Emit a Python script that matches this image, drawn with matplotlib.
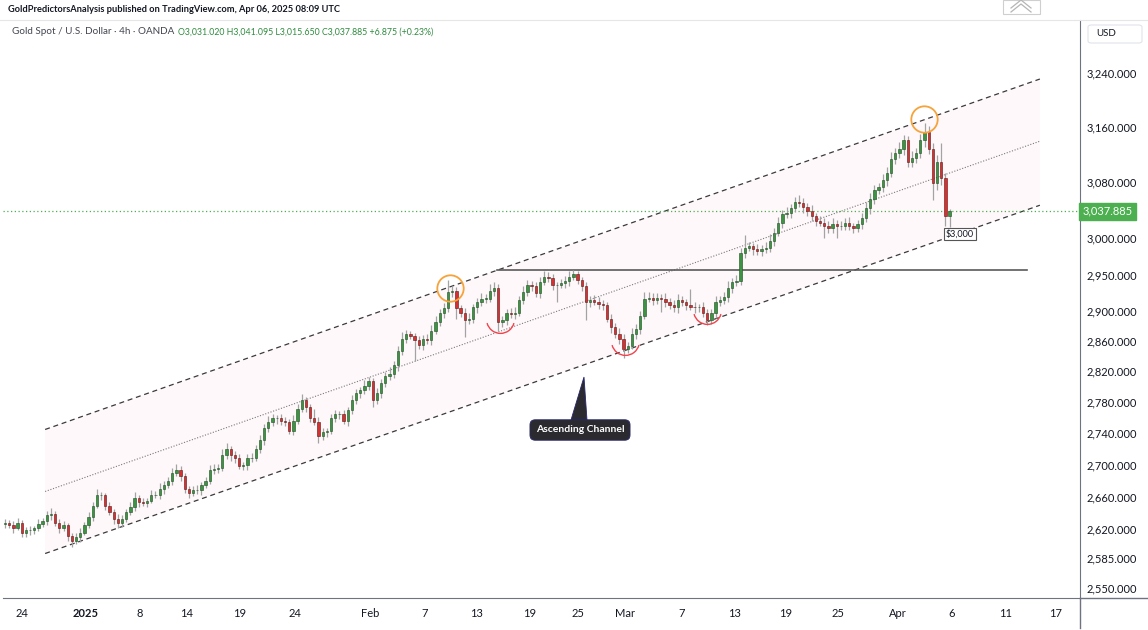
# Oro spot / USD, velas ~8h, canal ascendente (recreación de captura de TradingView)
import numpy as np
import matplotlib.pyplot as plt
from matplotlib.path import Path
from matplotlib.lines import Line2D
from matplotlib.patches import Polygon, FancyBboxPatch

plt.rcParams['font.family'] = ['Lato', 'DejaVu Sans']

# --- Datos ---
first_open = 2626
closes = [
    2628, 2625, 2622, 2628, 2615, 2619, 2619, 2621, 2627, 2630, 2637, 2639, 2628, 2621, 2625, 2612, 2606, 2610, 2616, 2625,
    2635, 2649, 2662, 2662, 2649, 2641, 2633, 2628, 2633, 2641, 2647, 2659, 2653, 2652, 2655, 2662, 2662, 2670, 2675, 2680,
    2690, 2693, 2686, 2670, 2665, 2668, 2668, 2674, 2680, 2693, 2695, 2696, 2712, 2720, 2712, 2708, 2698, 2699, 2708, 2709,
    2720, 2731, 2746, 2754, 2759, 2759, 2756, 2754, 2743, 2756, 2771, 2782, 2773, 2759, 2754, 2736, 2741, 2743, 2759, 2764,
    2764, 2756, 2769, 2782, 2791, 2795, 2801, 2807, 2782, 2791, 2804, 2814, 2817, 2828, 2847, 2863, 2869, 2867, 2861, 2855,
    2863, 2861, 2874, 2885, 2897, 2904, 2926, 2928, 2904, 2898, 2888, 2890, 2905, 2912, 2917, 2917, 2928, 2932, 2885, 2888,
    2898, 2896, 2898, 2915, 2926, 2935, 2934, 2924, 2939, 2947, 2945, 2935, 2936, 2938, 2941, 2947, 2950, 2942, 2934, 2912,
    2915, 2913, 2910, 2908, 2890, 2879, 2870, 2863, 2850, 2854, 2870, 2876, 2894, 2917, 2918, 2915, 2918, 2917, 2912, 2908,
    2905, 2915, 2912, 2908, 2906, 2905, 2905, 2897, 2888, 2898, 2913, 2915, 2919, 2932, 2939, 2941, 2980, 2987, 2989, 2985,
    2983, 2985, 2987, 2997, 3008, 3022, 3034, 3035, 3042, 3051, 3050, 3044, 3039, 3031, 3025, 3022, 3018, 3014, 3020, 3017,
    3018, 3022, 3017, 3015, 3020, 3028, 3042, 3056, 3068, 3072, 3082, 3093, 3113, 3122, 3128, 3140, 3108, 3115, 3121, 3140,
    3152, 3128, 3078, 3108, 3085, 3031, 3037.885,
]
# mechas (dólares por encima / por debajo del cuerpo)
wick_up = [
    4, 3, 5, 6, 3, 4, 5, 3, 6, 4, 5, 7, 3, 4, 5, 3, 4, 6, 5, 4,
    6, 5, 7, 4, 3, 5, 4, 6, 5, 4, 6, 7, 3, 5, 4, 6, 5, 7, 4, 5,
    6, 8, 5, 4, 3, 5, 6, 4, 5, 7, 6, 5, 8, 7, 4, 5, 6, 4, 5, 6,
    5, 7, 6, 8, 5, 4, 6, 5, 4, 7, 6, 8, 5, 4, 12, 6, 5, 4, 6, 5,
    4, 6, 5, 7, 6, 5, 8, 6, 4, 7, 6, 5, 8, 6, 7, 9, 6, 5, 4, 6,
    5, 6, 7, 8, 6, 7, 16, 6, 5, 4, 6, 7, 5, 6, 8, 6, 9, 7, 5, 6,
    5, 6, 7, 6, 8, 7, 6, 5, 7, 8, 6, 5, 4, 6, 7, 8, 6, 5, 4, 6,
    5, 7, 6, 5, 4, 6, 5, 7, 6, 5, 8, 7, 6, 9, 8, 7, 6, 5, 8, 6,
    7, 8, 6, 5, 22, 6, 5, 7, 6, 5, 8, 6, 7, 9, 6, 8, 7, 17, 6, 5,
    7, 6, 8, 9, 7, 8, 6, 9, 7, 8, 10, 7, 6, 8, 5, 6, 7, 6, 8, 6,
    7, 6, 8, 5, 6, 7, 9, 8, 7, 6, 9, 8, 10, 7, 9, 8, 6, 9, 8, 10,
    13, 9, 8, 10, 28, 7, 3.2,
]
wick_dn = [
    5, 4, 6, 3, 5, 4, 6, 5, 3, 4, 5, 6, 4, 5, 3, 6, 8, 4, 5, 3,
    4, 5, 3, 6, 5, 4, 7, 6, 5, 4, 3, 5, 6, 4, 5, 3, 4, 5, 6, 4,
    5, 4, 6, 5, 7, 4, 5, 6, 3, 4, 5, 6, 4, 5, 7, 6, 4, 5, 6, 5,
    4, 5, 6, 4, 5, 7, 6, 5, 4, 6, 5, 4, 6, 5, 4, 8, 5, 6, 4, 5,
    6, 5, 7, 4, 5, 6, 5, 6, 9, 5, 6, 4, 5, 6, 7, 5, 6, 4, 27, 6,
    7, 5, 6, 4, 5, 6, 5, 7, 15, 6, 22, 5, 6, 7, 5, 6, 4, 7, 12, 6,
    7, 5, 6, 4, 5, 6, 7, 5, 6, 4, 5, 6, 23, 5, 6, 7, 4, 5, 6, 24,
    6, 5, 7, 6, 5, 8, 6, 7, 13, 6, 5, 7, 6, 5, 4, 6, 5, 18, 6, 5,
    6, 7, 5, 6, 5, 7, 6, 5, 6, 5, 7, 6, 5, 6, 7, 5, 6, 7, 5, 8,
    6, 7, 5, 6, 7, 5, 8, 6, 7, 5, 6, 8, 7, 6, 7, 5, 18, 6, 7, 16,
    6, 7, 5, 8, 6, 7, 5, 8, 7, 6, 7, 8, 6, 7, 8, 9, 7, 6, 8, 7,
    9, 8, 24, 10, 9, 14, 15.35,
]

x_labels = ['24', '2025', '8', '14', '19', '24', 'Feb', '7', '13', '19', '25',
            'Mar', '7', '13', '19', '25', 'Apr', '6', '11', '17']
x_label_bars = [4.1, 19.4, 32.3, 43.5, 56.2, 69.4, 87.3, 100.5, 112.9, 125.4, 137.1,
                148.3, 162.0, 174.6, 186.8, 199.3, 213.6, 226.6, 239.5, 251.4]
y_ticks = [2550, 2585, 2620, 2660, 2700, 2740, 2780, 2820, 2860, 2900, 2950,
           3000, 3080, 3160, 3240]

# canal ascendente: (barra, precio) en los extremos
chan_x = [9.6, 247.6]
chan_upper = [2744.6, 3231.0]
chan_mid = [2666.5, 3138.8]
chan_lower = [2590.6, 3046.6]
resist_x = [117.7, 244.5]
resist_y = 2955.6
circle_x = [106.5, 219.9]
circle_y = [2932, 3171]
smile_x = [118.4, 148.3, 167.9]
smile_y = [2889, 2860, 2901]
last_price = 3037.885

W, H = 1148, 630
fig = plt.figure(figsize=(W / 100, H / 100), dpi=100)
fig.patch.set_facecolor('white')


def fx(px):
    return px / W


def fy(py):
    return 1 - py / H


def fit(t, width_px):
    # ajusta el tamaño de letra para que el texto ocupe width_px
    r = fig.canvas.get_renderer()
    w = t.get_window_extent(r).width
    t.set_fontsize(t.get_fontsize() * width_px / w)


ax = fig.add_axes([fx(3), fy(598), fx(1080) - fx(3), fy(20) - fy(598)])
ax.set_yscale('log')
ax.set_xlim(-0.48, 257.2)
ax.set_ylim(2537.5, 3321)

# --- canal ---
ax.fill([chan_x[0], chan_x[1], chan_x[1], chan_x[0]],
        [chan_upper[0], chan_upper[1], chan_lower[1], chan_lower[0]],
        color='#fef8fa', lw=0, zorder=0)
ax.plot(chan_x, chan_upper, color='#3a3a3a', lw=0.9, ls=(0, (4, 3)), zorder=1)
ax.plot(chan_x, chan_lower, color='#3a3a3a', lw=0.9, ls=(0, (4, 3)), zorder=1)
ax.plot(chan_x, chan_mid, color='#7a7a7a', lw=0.8, ls=(0, (1, 1.5)), zorder=1)
ax.plot(resist_x, [resist_y, resist_y], color='#5a5a5a', lw=1.2, zorder=1)

# --- velas ---
c = np.array(closes, dtype=float)
o = np.r_[first_open, c[:-1]]
hi = np.maximum(o, c) + np.array(wick_up)
lo = np.minimum(o, c) - np.array(wick_dn)
idx = np.arange(len(c))
up = c >= o
body = np.maximum(np.abs(c - o), 0.6)

ax.vlines(idx, lo, hi, color='#a3a3a3', lw=0.9, zorder=2)
ax.bar(idx[up], body[up], bottom=o[up], width=0.55, color='#3c9443',
       edgecolor='#1d4d20', lw=0.4, zorder=3)
ax.bar(idx[~up], body[~up], bottom=c[~up], width=0.55, color='#d63030',
       edgecolor='#5a1414', lw=0.4, zorder=3)

# precio actual
ax.axhline(last_price, color='#4caf50', lw=0.9, ls=(0, (1, 2)), zorder=1)

# marcas: círculos y "sonrisas"
ax.plot(circle_x, circle_y, ls='none', marker='o', ms=19, mfc='none',
        mec='#f5a33a', mew=1.3, zorder=4)
smile = Path.arc(195, 345)
ax.plot(smile_x, smile_y, ls='none', marker=smile, ms=20, mfc='none',
        mec='#f0444c', mew=1.0, zorder=4)

# --- ejes ---
ax.yaxis.tick_right()
ax.set_yticks(y_ticks)
ax.set_yticklabels([f'{v:,.3f}' for v in y_ticks])
ax.yaxis.set_minor_locator(plt.NullLocator())
ax.set_xticks(x_label_bars)
ax.set_xticklabels(x_labels)
for lab in ax.get_xticklabels():
    if lab.get_text() == '2025':
        lab.set_fontweight('bold')
ax.tick_params(axis='y', length=0, pad=5, labelsize=8, labelcolor='#131722')
ax.tick_params(axis='x', length=0, pad=7, labelsize=8, labelcolor='#131722')
for s in ['top', 'left']:
    ax.spines[s].set_visible(False)
ax.spines['right'].set_color('#6f7280')
ax.spines['bottom'].set_color('#6f7280')
ax.set_facecolor('white')

# etiqueta de precio en el eje
ax.text(1.0025, last_price, f'{last_price:,.3f}', transform=ax.get_yaxis_transform(),
        ha='left', va='center', color='white', fontsize=8,
        bbox=dict(boxstyle='square,pad=0.3', fc='#4caf50', ec='#4caf50'))

# lineas de marco
fig.add_artist(Line2D([fx(1080), 1], [fy(598), fy(598)], color='#6f7280', lw=1))
fig.add_artist(Line2D([fx(1080), fx(1080)], [fy(598), fy(628)], color='#6f7280', lw=1))
fig.add_artist(Line2D([0, 1], [fy(20), fy(20)], color='#e6e6e6', lw=0.8))

# --- textos ---
t1 = fig.text(fx(8), fy(10), 'GoldPredictorsAnalysis published on TradingView.com, Apr 06, 2025 08:09 UTC',
              fontsize=8, fontweight='bold', color='#131722', va='center')
t2 = fig.text(fx(12), fy(32), 'Gold Spot / U.S. Dollar · 4h · OANDA',
              fontsize=7.5, color='#434651', va='center')
t3 = fig.text(fx(178), fy(32), 'O3,031.020 H3,041.095 L3,015.650 C3,037.885 +6.875 (+0.23%)',
              fontsize=7.5, color='#2e8b3e', va='center')
fit(t1, 335)
fit(t2, 161)
fit(t3, 254)

# caja USD
fig.add_artist(FancyBboxPatch((fx(1088), fy(43)), fx(54), 18 / H,
                              boxstyle='round,pad=0,rounding_size=0.003',
                              fc='white', ec='#e0e3eb', lw=0.8, transform=fig.transFigure))
fig.text(fx(1096), fy(34), 'USD', fontsize=7, color='#131722', va='center')

# icono arriba a la derecha
fig.add_artist(FancyBboxPatch((fx(1003), fy(14)), fx(37), 14 / H,
                              boxstyle='square,pad=0', fc='white', ec='#cfcfcf', lw=0.8,
                              transform=fig.transFigure))
for dy in (0, 4):
    fig.add_artist(Line2D([fx(1011), fx(1021), fx(1031)], [fy(12 - dy), fy(4 - dy), fy(12 - dy)],
                          color='#b5b5b5', lw=0.9))

# etiqueta $3,000
fig.text(fx(960), fy(234), '$3,000', fontsize=6.5, color='#131722', ha='center', va='center',
         bbox=dict(boxstyle='square,pad=0.2', fc='white', ec='#555555', lw=0.8))

# globo "Ascending Channel"
fig.add_artist(Polygon([(fx(571), fy(420)), (fx(587), fy(420)), (fx(584), fy(377))],
                       closed=True, fc='#2b2b2f', ec='#26266e', lw=0.6, transform=fig.transFigure))
fig.text(fx(580), fy(430), 'Ascending Channel', fontsize=7.5, fontweight='bold', color='white',
         ha='center', va='center',
         bbox=dict(boxstyle='round,pad=0.55,rounding_size=0.5', fc='#2b2b2f', ec='#26266e', lw=0.6))

fig.savefig('out.png', dpi=100)
